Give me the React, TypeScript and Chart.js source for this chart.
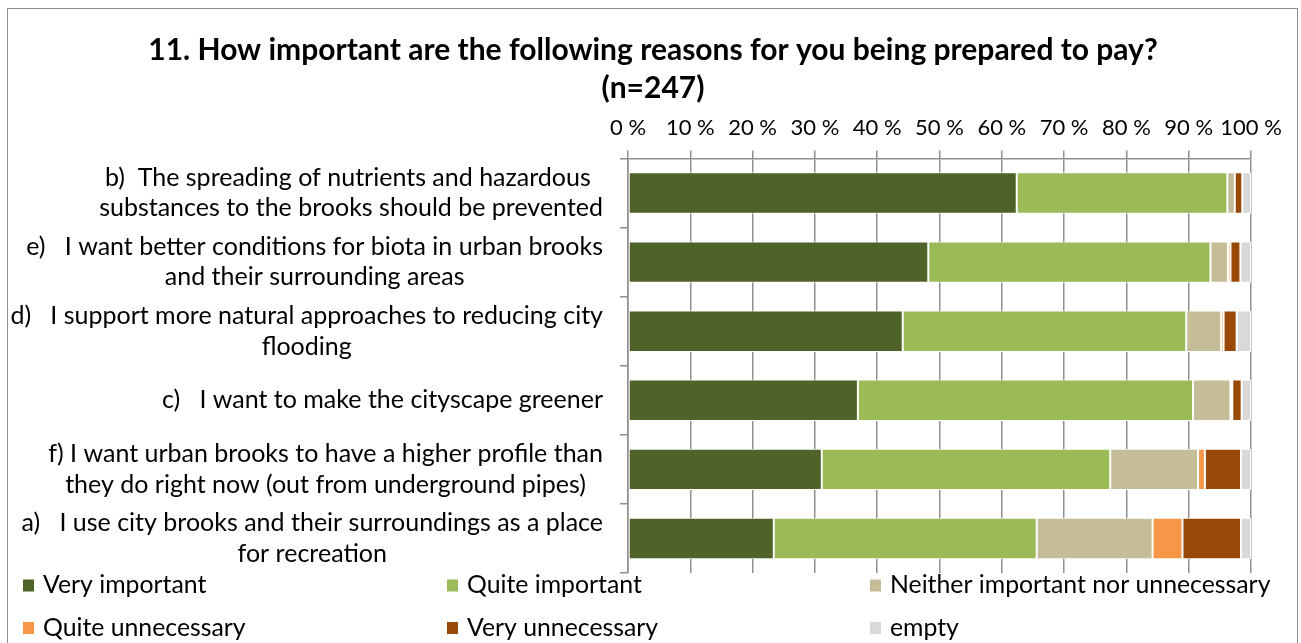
import React, { useEffect, useRef } from "react";
import { Chart, registerables } from "chart.js";

Chart.register(...registerables);

const titleLines = [
  "11. How important are the following reasons for you being prepared to pay?",
  "(n=247)",
];

const categories: string[][] = [
  ["b)  The spreading of nutrients and hazardous ", "substances to the brooks should be prevented"],
  ["e)   I want better conditions for biota in urban brooks", "and their surrounding areas"],
  ["d)   I support more natural approaches to reducing city", "flooding"],
  ["c)   I want to make the cityscape greener"],
  ["f) I want urban brooks to have a higher profile than", "they do right now (out from underground pipes)"],
  ["a)   I use city brooks and their surroundings as a place", "for recreation"],
];

const seriesNames = [
  "Very important",
  "Quite important",
  "Neither important nor unnecessary",
  "Quite unnecessary",
  "Very unnecessary",
  "empty",
];

const veryImportant = [62.4, 48.2, 44.1, 36.9, 31.1, 23.4];
const quiteImportant = [33.8, 45.3, 45.5, 53.8, 46.3, 42.2];
const neither = [1.2, 2.8, 5.6, 6.0, 14.1, 18.6];
const quiteUnnecessary = [0, 0.4, 0.4, 0.3, 1.1, 4.8];
const veryUnnecessary = [1.2, 1.6, 2.1, 1.5, 5.8, 9.4];
const empty = [1.4, 1.7, 2.3, 1.5, 1.6, 1.6];

const seriesValues = [veryImportant, quiteImportant, neither, quiteUnnecessary, veryUnnecessary, empty];
const seriesColors = ["#4F6228", "#9BBB59", "#C4BD97", "#F79646", "#984807", "#D9D9D9"];

const xTicks = [0, 10, 20, 30, 40, 50, 60, 70, 80, 90, 100];

const FONT = "Lato";
const TICK_SIZE = 22;
const LABEL_SIZE = 25;
const LEGEND_SIZE = 24.8;
const TITLE_SIZE = 30;

const overlayPlugin = {
  id: "overlay",
  afterDraw(chart: any) {
    const ctx = chart.ctx as CanvasRenderingContext2D;
    const yScale = chart.scales.y;
    const area = chart.chartArea;
    ctx.save();
    ctx.fillStyle = "#000";
    ctx.textBaseline = "middle";

    // title
    ctx.textAlign = "center";
    ctx.font = `bold ${TITLE_SIZE}px ${FONT}`;
    titleLines.forEach((t, i) => ctx.fillText(t, 653, 50 + i * 38));

    // category labels (block right-aligned, lines centred)
    ctx.font = `${LABEL_SIZE}px ${FONT}`;
    const right = area.left - 25;
    categories.forEach((lines, i) => {
      const cy = yScale.getPixelForValue(i);
      const w = Math.max(...lines.map((l) => ctx.measureText(l).width));
      const cx = right - w / 2;
      lines.forEach((l, j) => {
        ctx.fillText(l, cx, cy + (j - (lines.length - 1) / 2) * 30.5);
      });
    });

    // legend
    ctx.textAlign = "left";
    ctx.font = `${LEGEND_SIZE}px ${FONT}`;
    const colX = [23, 447, 870];
    const rowY = [area.bottom + 12.5, area.bottom + 55];
    chart.data.datasets.forEach((ds: any, i: number) => {
      const x = colX[i % 3];
      const y = rowY[Math.floor(i / 3)];
      ctx.fillStyle = ds.backgroundColor;
      ctx.fillRect(x, y - 6, 11, 12);
      ctx.fillStyle = "#000";
      ctx.fillText(ds.label, x + 20, y);
    });
    ctx.restore();
  },
};

export default function App() {
  const ref = useRef<HTMLCanvasElement>(null);

  useEffect(() => {
    if (!ref.current) return;
    const chart = new Chart(ref.current, {
      type: "bar",
      data: {
        labels: categories.map((c) => c.join(" ")),
        datasets: seriesNames.map((name, i) => ({
          label: name,
          data: seriesValues[i],
          backgroundColor: seriesColors[i],
          borderColor: "#ffffff",
          borderWidth: 1,
          borderSkipped: false,
          barPercentage: 0.6,
          categoryPercentage: 1,
        })),
      },
      plugins: [overlayPlugin],
      options: {
        indexAxis: "y",
        responsive: false,
        animation: false,
        layout: { padding: { top: 0, right: 50, bottom: 70, left: 0 } },
        plugins: {
          legend: { display: false },
          title: { display: false },
          tooltip: { enabled: false },
        },
        scales: {
          x: {
            position: "top",
            stacked: true,
            min: 0,
            max: 100,
            afterBuildTicks: (scale: any) => {
              scale.ticks = xTicks.map((v) => ({ value: v }));
            },
            afterFit: (scale: any) => {
              scale.height = 158.5;
            },
            ticks: {
              color: "#000",
              padding: 9,
              font: { family: FONT, size: TICK_SIZE },
              maxRotation: 0,
              autoSkip: false,
              callback: (v: any) => `${v} %`,
            },
            grid: {
              color: "#8f8f8f",
              lineWidth: 1.5,
              drawTicks: true,
              tickLength: 8,
            },
            border: { color: "#8f8f8f", width: 1.5 },
          },
          y: {
            stacked: true,
            afterFit: (scale: any) => {
              scale.width = 628;
            },
            ticks: { display: false },
            grid: {
              offset: true,
              drawOnChartArea: false,
              drawTicks: true,
              tickLength: 8,
              color: "#8f8f8f",
              lineWidth: 1.5,
            },
            border: { color: "#8f8f8f", width: 1.5 },
          },
        },
      },
    });
    return () => chart.destroy();
  }, []);

  return (
    <div
      style={{
        position: "fixed",
        left: 0,
        top: 0,
        width: 1301,
        height: 643,
        overflow: "hidden",
        background: "#fff",
      }}
    >
      <div
        style={{
          position: "absolute",
          left: 7,
          top: 8,
          width: 1291,
          height: 700,
          border: "1.5px solid #909090",
          boxSizing: "border-box",
        }}
      />
      <canvas
        ref={ref}
        width={1301}
        height={643}
        style={{ position: "absolute", left: 0, top: 0, width: 1301, height: 643 }}
      />
    </div>
  );
}
